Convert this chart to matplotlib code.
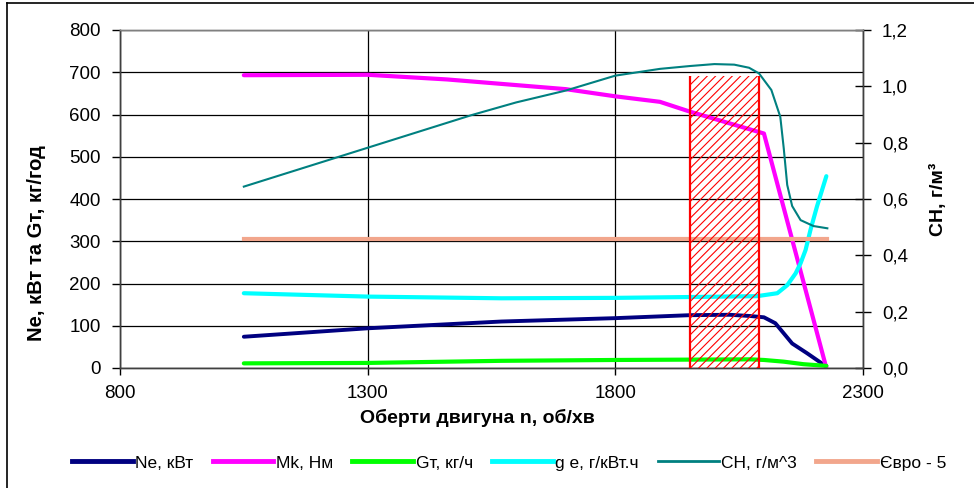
import matplotlib
matplotlib.use("Agg")
import matplotlib.pyplot as plt
from matplotlib.lines import Line2D
from matplotlib.ticker import FuncFormatter, MultipleLocator, FixedLocator

plt.rcParams['font.family'] = ['Liberation Sans', 'DejaVu Sans']
plt.rcParams['hatch.color'] = 'red'
plt.rcParams['hatch.linewidth'] = 0.8

# ---- data ----
rpm_ne = [1050, 1300, 1570, 1800, 1950, 2030, 2073, 2100, 2123, 2140, 2157, 2187, 2218, 2226]
ne = [74, 94, 110, 118, 125, 126, 123, 120, 106, 82, 58, 35, 10, 5]

rpm_mk = [1050, 1300, 1460, 1700, 1800, 1890, 1950, 2100, 2226]
mk = [693, 694, 683, 660, 643, 630, 607, 555, 0]

rpm_gt = [1050, 1300, 1570, 1800, 2073, 2100, 2140, 2180, 2226]
gt = [11, 12, 17, 19, 20.5, 19, 15, 9, 5]

rpm_ge = [1050, 1300, 1570, 1800, 1950, 2086, 2127, 2147, 2164, 2174, 2184, 2194, 2207, 2226]
ge = [177, 169, 165, 166, 168, 170, 177, 196, 224, 248, 279, 327, 382, 454]

rpm_ch = [1050, 1300, 1510, 1600, 1700, 1800, 1890, 1950, 2000, 2040, 2070, 2090, 2115,
          2133, 2140, 2147, 2157, 2174, 2200, 2228]
ch = [0.644, 0.782, 0.898, 0.943, 0.985, 1.038, 1.062, 1.072, 1.079, 1.077, 1.066, 1.046,
      0.987, 0.892, 0.780, 0.650, 0.575, 0.525, 0.504, 0.496]

rpm_euro = [1050, 2228]
euro5 = [0.458, 0.458]

zone_rpm = [1950, 2090]
zone_top = 690  # left-axis units

xticks = [800, 1300, 1800, 2300]
labels = ['Ne, кВт', 'Mk, Нм', 'Gт, кг/ч', 'g е, г/кВт.ч', 'CH, г/м^3', 'Євро - 5']
colors = ['#000080', '#FF00FF', '#00FF00', '#00FFFF', '#008080', '#F2A68C']

left_max, right_max = 800, 1.2

# ---- figure ----
fig = plt.figure(figsize=(9.74, 4.88), dpi=100)
ax = fig.add_axes([120/974, 1-368/488, (863-120)/974, (368-30)/488])
ax2 = ax.twinx()

ax.plot(rpm_ne, ne, color=colors[0], lw=2.8, solid_capstyle='round', solid_joinstyle='round')
ax.plot(rpm_mk, mk, color=colors[1], lw=3.0, solid_capstyle='round', solid_joinstyle='round')
ax.plot(rpm_gt, gt, color=colors[2], lw=3.0, solid_capstyle='round', solid_joinstyle='round')
ax.plot(rpm_ge, ge, color=colors[3], lw=3.0, solid_capstyle='round', solid_joinstyle='round')
ax2.plot(rpm_ch, ch, color=colors[4], lw=1.5, solid_joinstyle='round')
ax2.plot(rpm_euro, euro5, color=colors[5], lw=3.0)

# hatched zone (drawn on top)
zt = zone_top * right_max / left_max
ax2.fill_between(zone_rpm, 0, zt, facecolor='none', edgecolor='red', hatch='////',
                 linewidth=0, zorder=5)
ax2.vlines(zone_rpm, 0, zt, colors='red', lw=1.6, zorder=6)

ax.set_xlim(xticks[0], xticks[-1])
ax.set_ylim(0, left_max)
ax2.set_ylim(0, right_max)
ax.xaxis.set_major_locator(FixedLocator(xticks))
ax.yaxis.set_major_locator(MultipleLocator(100))
ax2.yaxis.set_major_locator(MultipleLocator(0.2))
ax2.yaxis.set_major_formatter(FuncFormatter(lambda v, p: f"{v:.1f}".replace('.', ',')))

ax.grid(True, color='black', lw=0.9)
ax.set_axisbelow(True)

for a in (ax, ax2):
    for s in a.spines.values():
        s.set_color('#404040')
        s.set_linewidth(1.0)
ax.spines['top'].set_color('#808080')
ax2.spines['top'].set_color('#808080')

ax.tick_params(axis='y', direction='out', length=6, width=1, labelsize=13.5, pad=8)
ax.tick_params(axis='x', direction='out', length=5, width=1, labelsize=13.5, pad=7)
ax2.tick_params(axis='y', direction='inout', length=11, width=1, labelsize=13.5, pad=8)

ax.set_ylabel('Ne, кВт та Gт, кг/год', fontsize=14.5, fontweight='bold')
ax.yaxis.set_label_coords((37-120)/743, 1-(243-30)/338)
ax2.set_ylabel('CH, г/м³', fontsize=14, fontweight='bold')
ax2.yaxis.set_label_coords((938-120)/743, 0.5)
ax.set_xlabel('Оберти двигуна n, об/хв', fontsize=14, fontweight='bold')
ax.xaxis.set_label_coords((477-120)/743, -(418-368)/338)
ax.xaxis.label.set_va('center')
ax.yaxis.label.set_va('center')
ax2.yaxis.label.set_va('center')

# legend
widths = [3.5, 3.5, 3.5, 3.5, 2.0, 3.5]
handles = [Line2D([], [], color=c, lw=w) for c, w in zip(colors, widths)]
fig.legend(handles, labels, loc='center', bbox_to_anchor=(509/974, 1-463/488),
           ncol=6, frameon=False, handlelength=3.5, handletextpad=0.15,
           columnspacing=1.1, prop={'family': ['Liberation Sans', 'DejaVu Sans'], 'size': 12.5})

# outer frame (left and top edges)
fig.add_artist(Line2D([7/974, 7/974], [0, 1-3/488], color='black', lw=1.2,
                      transform=fig.transFigure))
fig.add_artist(Line2D([7/974, 1], [1-3/488, 1-3/488], color='black', lw=1.2,
                      transform=fig.transFigure))

fig.savefig('out.png', dpi=100)
